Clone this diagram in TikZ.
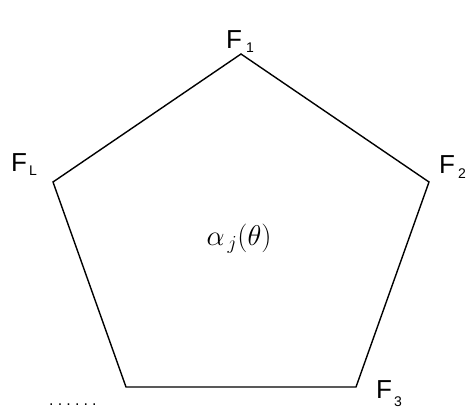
\documentclass[tikz,border=0pt]{standalone}
\usepackage{fontspec}
\setmainfont{Liberation Sans}
\newcommand{\dotbox}{\makebox[8.6pt][l]{.}}
\begin{document}
\begin{tikzpicture}[x=1pt,y=-1pt,
  lbl/.style={inner sep=0pt,font=\fontsize{26}{26}\selectfont},
  sub/.style={inner sep=0pt,font=\fontsize{14}{14}\selectfont}]
\useasboundingbox (0,0) rectangle (472,408);
\coordinate (v1) at (241,54);
\coordinate (v2) at (429,182);
\coordinate (v3) at (356,387);
\coordinate (v4) at (126,387);
\coordinate (v5) at (53,182);
\draw[line width=1.4pt,line join=miter] (v1) -- (v2) -- (v3) -- (v4) -- (v5) -- cycle;
\node[lbl,anchor=base west] (f1) at (226,48) {F};
\node[sub,anchor=base west] (f1s) at (246,52) {1};
\node[lbl,anchor=base west] (fl) at (11,171) {F};
\node[sub,anchor=base west] (fls) at (29,175) {L};
\node[lbl,anchor=base west] (f2) at (439,173) {F};
\node[sub,anchor=base west] (f2s) at (458,178) {2};
\node[lbl,anchor=base west] (f3) at (376,398) {F};
\node[sub,anchor=base west] (f3s) at (394,406) {3};
\node[inner sep=0pt,anchor=base west,font=\fontsize{16}{16}\selectfont] (dots) at (49,405) {\dotbox\dotbox\dotbox\dotbox\dotbox\dotbox};
\node[inner sep=0pt,scale=1.15,font=\fontsize{24}{24}\selectfont] (c) at (239,239) {$\alpha_{\,j}(\theta)$};
\end{tikzpicture}
\end{document}
